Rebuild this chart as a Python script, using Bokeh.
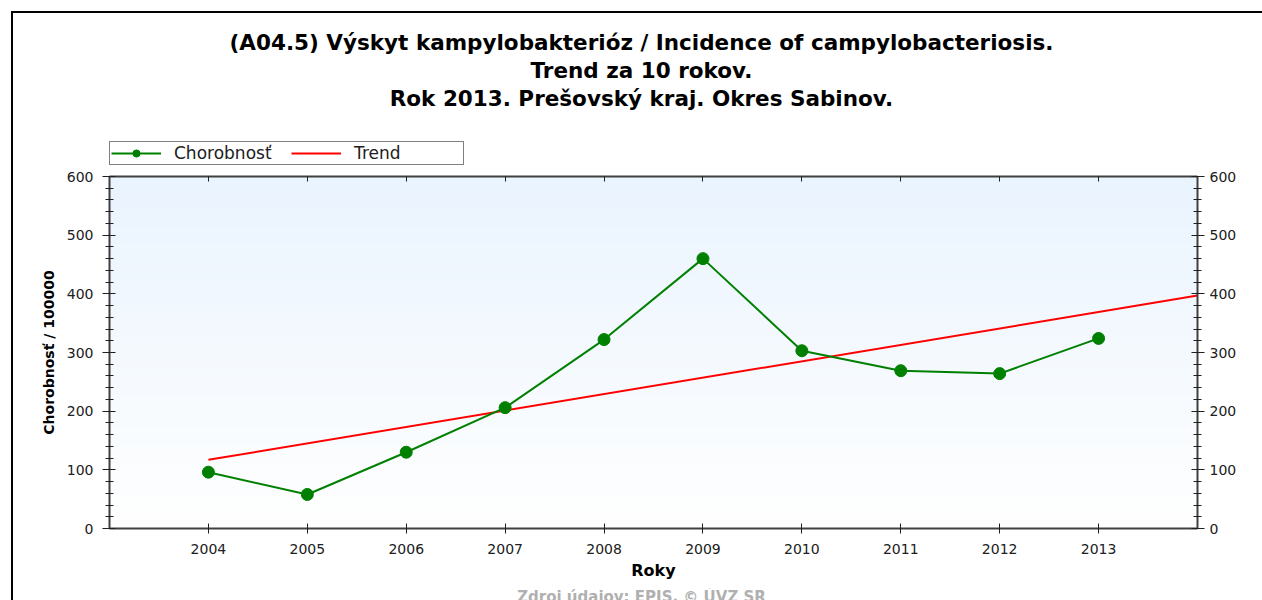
import numpy as np
from bokeh.plotting import figure
from bokeh.layouts import column
from bokeh.models import (Range1d, LinearAxis, FixedTicker, SingleIntervalTicker,
                          Legend, LegendItem, Label)
from bokeh.embed import file_html
from bokeh.resources import INLINE

# ---- data ----
years = [2004, 2005, 2006, 2007, 2008, 2009, 2010, 2011, 2012, 2013]
incidence = [96, 58, 130, 206, 322, 460, 303, 269, 264, 324]
trend_years = [2004, 2014]
trend_values = [117, 397]
title_lines = [
    "(A04.5) Výskyt kampylobakterióz / Incidence of campylobacteriosis.",
    "Trend za 10 rokov.",
    "Rok 2013. Prešovský kraj. Okres Sabinov.",
]
y_label = "Chorobnosť / 100000"
x_label = "Roky"
source_text = "Zdroj údajov: EPIS, © ÚVZ SR"
series_names = ["Chorobnosť", "Trend"]

FONT = "DejaVu Sans"
GREEN = "#008000"
RED = "#ff0000"
W = 1249


def bare_figure(h):
    f = figure(width=W, height=h, output_backend="svg", toolbar_location=None,
               x_range=Range1d(0, 1), y_range=Range1d(0, 1),
               x_axis_location=None, y_axis_location=None,
               min_border_left=0, min_border_right=0, min_border_top=0,
               min_border_bottom=0)
    f.title_location = None
    f.outline_line_color = None
    f.xgrid.visible = False
    f.ygrid.visible = False
    f.background_fill_color = "white"
    f.border_fill_color = "white"
    return f


# ---------- header: titles + legend ----------
head = bare_figure(153)
for txt, yy in zip(title_lines, [124, 96, 68]):
    head.add_layout(Label(x=532, y=yy, x_units="screen", y_units="screen", text=txt,
                          text_font=FONT, text_font_style="bold",
                          text_font_size="21.5px", text_align="center",
                          text_baseline="middle", text_color="black"))

# legend renderers: the same series, lying outside this strip's visible ranges
lg_line = head.line(years, incidence, line_color=GREEN, line_width=2)
lg_pts = head.scatter(years, incidence, size=12, fill_color=GREEN, line_color=GREEN)
lg_trend = head.line(trend_years, trend_values, line_color=RED, line_width=2)
legend = Legend(items=[LegendItem(label=series_names[0], renderers=[lg_line, lg_pts]),
                       LegendItem(label=series_names[1], renderers=[lg_trend])],
                location=(0, 1), orientation="horizontal")
legend.label_text_font = FONT
legend.label_text_font_size = "17px"
legend.label_text_color = "#202020"
legend.glyph_width = 50
legend.glyph_height = 18
legend.label_height = 18
legend.label_width = 108
legend.label_standoff = 13
legend.spacing = 9
legend.padding = 1
legend.margin = 0
legend.border_line_color = "black"
legend.border_line_width = 1.5
legend.background_fill_color = "white"
legend.background_fill_alpha = 1
head.add_layout(legend)

# ---------- main chart ----------
fig = figure(width=W, height=422, output_backend="svg", toolbar_location=None,
             x_range=Range1d(2003, 2014), y_range=Range1d(0, 600),
             min_border_left=96, min_border_right=65, min_border_top=10,
             min_border_bottom=60)
fig.title_location = None
fig.outline_line_color = None
fig.xgrid.visible = False
fig.ygrid.visible = False
fig.background_fill_color = "white"
fig.border_fill_color = "white"

# vertical gradient background of the plot area
n = 300
top = np.array([234, 244, 254], dtype=float)
bot = np.array([255, 255, 255], dtype=float)
t = np.linspace(0, 1, n)[:, None]
cols = (bot * (1 - t) + top * t).astype(np.uint32)
img = np.empty((n, 1), dtype=np.uint32)
view = img.view(dtype=np.uint8).reshape((n, 1, 4))
view[:, 0, 0] = cols[:, 0]
view[:, 0, 1] = cols[:, 1]
view[:, 0, 2] = cols[:, 2]
view[:, 0, 3] = 255
fig.image_rgba(image=[img], x=2003, y=0, dw=11, dh=600, level="image")

fig.line(trend_years, trend_values, line_color=RED, line_width=2)
fig.line(years, incidence, line_color=GREEN, line_width=2)
fig.scatter(years, incidence, size=12, fill_color=GREEN, line_color=GREEN)


def style_axis(ax):
    ax.axis_line_color = "#404040"
    ax.axis_line_width = 2
    ax.major_tick_line_color = "#202020"
    ax.minor_tick_line_color = "#202020"
    ax.major_label_text_font = FONT
    ax.major_label_text_font_size = "14px"
    ax.major_label_text_color = "#202020"
    ax.axis_label_text_font = FONT
    ax.axis_label_text_font_style = "bold"
    ax.axis_label_text_color = "black"


xax = fig.xaxis[0]
xax.ticker = FixedTicker(ticks=years)
style_axis(xax)
xax.major_tick_in = 5
xax.major_tick_out = 5
xax.minor_tick_line_color = None
xax.major_label_standoff = 10
xax.axis_label = x_label
xax.axis_label_text_font_size = "16px"
xax.axis_label_standoff = 4

yax = fig.yaxis[0]
yax.ticker = SingleIntervalTicker(interval=100, num_minor_ticks=5)
style_axis(yax)
yax.major_tick_in = 6
yax.major_tick_out = 7
yax.minor_tick_in = 4
yax.minor_tick_out = 4
yax.major_label_standoff = 9
yax.axis_label = y_label
yax.axis_label_text_font_size = "14px"
yax.axis_label_standoff = 7

rax = LinearAxis(ticker=SingleIntervalTicker(interval=100, num_minor_ticks=5))
style_axis(rax)
rax.major_tick_in = 6
rax.major_tick_out = 7
rax.minor_tick_in = 4
rax.minor_tick_out = 4
rax.major_label_standoff = 5
fig.add_layout(rax, "right")

tax = LinearAxis(ticker=FixedTicker(ticks=years))
style_axis(tax)
tax.major_tick_in = 5
tax.major_tick_out = 0
tax.minor_tick_line_color = None
tax.major_label_overrides = {y: "" for y in years}
tax.major_label_text_font_size = "2px"
tax.major_label_standoff = 0
fig.add_layout(tax, "above")

# ---------- footer: source note (cut by the window edge, as in the original) ----------
foot = bare_figure(12)
foot.add_layout(Label(x=532, y=13, x_units="screen", y_units="screen", text=source_text,
                      text_font=FONT, text_font_style="bold", text_font_size="15px",
                      text_align="center", text_baseline="top", text_color="#b0b0b0"))

p = column(head, fig, foot, spacing=0)
p.styles = {"border-left": "2px solid black", "border-top": "2px solid black",
            "margin-left": "11px", "margin-top": "11px"}

open("out.html", "w").write(file_html(p, INLINE))
